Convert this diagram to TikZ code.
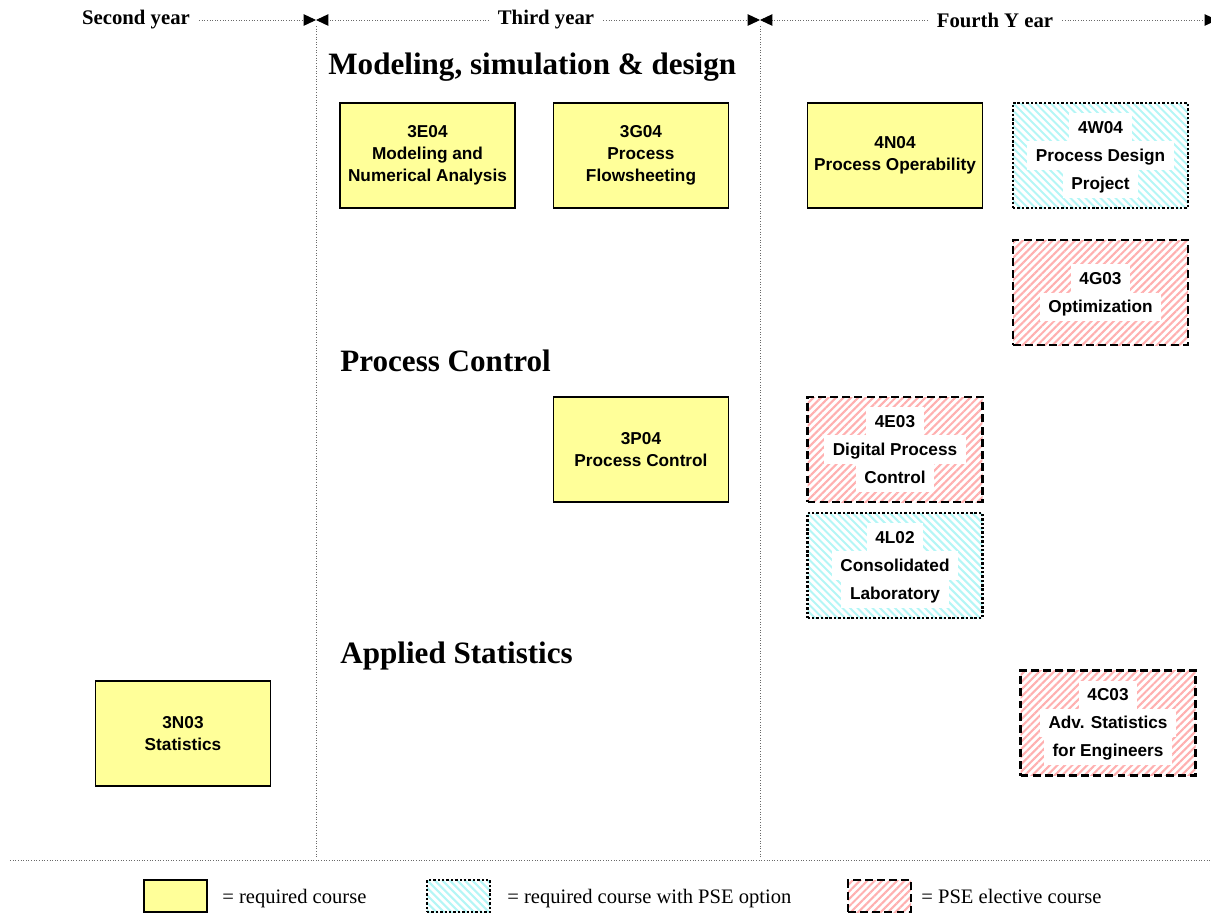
\documentclass[tikz,border=0pt]{standalone}
\usepackage{fontspec}
\setmainfont{Liberation Serif}
\setsansfont{Liberation Sans}
\usetikzlibrary{arrows.meta,patterns.meta}
\definecolor{courseYellow}{HTML}{FFFF99}
\definecolor{hatchCyan}{HTML}{B4F6F6}
\definecolor{hatchRed}{HTML}{FFB0B0}
\definecolor{gridGray}{HTML}{6A6A6A}
\setlength{\fboxsep}{0pt}
\setlength{\lineskip}{0pt}
% white strip behind one line of a hatched box
\newcommand{\wl}[1]{\colorbox{white}{\hspace{5pt}\rule[-4.8pt]{0pt}{16pt}#1\hspace{5pt}}}

\begin{document}
\begin{tikzpicture}[>=Latex,
  yearlbl/.style={font=\fontsize{11.8}{14}\selectfont\bfseries,inner xsep=5pt},
  yrline/.style={gridGray,line width=0.5pt,densely dotted},
  bowtip/.style={-{Triangle[length=7pt,width=6.5pt,black]}},
  area/.style={font=\fontsize{17.7}{20}\selectfont\bfseries,anchor=west,inner sep=0pt},
  course/.style={draw,minimum width=3.5cm,minimum height=2.1cm,align=center,
    font=\sffamily\bfseries\fontsize{9.8}{12.5}\selectfont},
  req/.style={course,fill=courseYellow,line width=1pt},
  hatched/.style={course,font=\sffamily\bfseries\fontsize{9.8}{10}\selectfont},
  % back-slanted stripes drawn by hand
  pse/.style={hatched,line width=1.4pt,dash pattern=on 1.4pt off 1.1pt,
    path picture={
      \foreach \k in {-2.25,-2.1,...,3.6}
        \draw[hatchCyan,solid,line width=1.2pt]
          ([xshift=\k cm]path picture bounding box.north west) -- ++(2.4,-2.4);
    }},
  elect/.style={hatched,pattern={Lines[angle=45,distance=3pt,line width=1.2pt]},
    pattern color=hatchRed,line width=1.4pt,dash pattern=on 4.5pt off 2.4pt},
  keytext/.style={font=\fontsize{11.7}{14}\selectfont,anchor=base west,inner sep=0pt}]
  \useasboundingbox (0,0) rectangle (24.22,-18.26);

  % year headers
  \node[yearlbl] (y2) at (2.72,-0.40) {Second year};
  \node[yearlbl] (y3) at (10.92,-0.40) {Third year};
  \node[yearlbl] (y4) at (19.90,-0.40) {Fourth Y ear};
  \coordinate (b23) at (6.32,-0.40);
  \coordinate (b34) at (15.20,-0.40);
  \coordinate (bend) at (24.34,-0.40);
  \draw[yrline,bowtip] (y2) -- (b23);
  \foreach \a/\b/\c in {b23/y3/b34, b34/y4/bend}
  {
    \draw[yrline,bowtip] (\b) -- (\a);
    \draw[yrline,bowtip] (\b) -- (\c);
  }
  \foreach \c in {b23,b34}
    \draw[yrline] ([yshift=-0.12cm]\c) -- ++(0,-16.64);
  \draw[yrline] (0.2,-17.2) -- (24.3,-17.2);

  % areas
  \node[area] (modsim) at (6.56,-1.34) {Modeling, simulation \& design};
  \node[area] (ctrl) at (6.80,-7.22) {Process Control};
  \node[area] (stats) at (6.80,-13.12) {Applied Statistics};

  % required courses
  \foreach \name/\x/\y/\txt in {
    c3E04/8.55/-3.11/{3E04\\Modeling and\\Numerical Analysis},
    c3G04/12.82/-3.11/{3G04\\Process\\Flowsheeting},
    c4N04/17.90/-3.11/{4N04\\Process Operability},
    c3P04/12.82/-8.99/{3P04\\Process Control},
    c3N03/3.66/-14.67/{3N03\\Statistics}}
    \node[req] (\name) at (\x,\y) {\txt};

  % PSE option and electives
  \node[pse] (c4W04) at (22.01,-3.11) {\wl{4W04}\\ \wl{Process Design}\\ \wl{Project}};
  \node[elect] (c4G03) at (22.01,-5.85) {\wl{4G03}\\ \wl{Optimization}};
  \node[elect] (c4E03) at (17.90,-8.99) {\wl{4E03}\\ \wl{Digital Process}\\ \wl{Control}};
  \node[pse] (c4L02) at (17.90,-11.31) {\wl{4L02}\\ \wl{Consolidated}\\ \wl{Laboratory}};
  \node[elect] (c4C03) at (22.16,-14.46) {\wl{4C03}\\ \wl{Adv. Statistics}\\ \wl{for Engineers}};

  % legend
  \node[req,minimum width=1.26cm,minimum height=0.64cm] (keyReq) at (3.51,-17.92) {};
  \node[pse,minimum width=1.26cm,minimum height=0.64cm] (keyPse) at (9.17,-17.92) {};
  \node[elect,minimum width=1.26cm,minimum height=0.64cm] (keyElect) at (17.59,-17.92) {};
  \node[keytext] (keyReqT) at (4.44,-18.06) {= required course};
  \node[keytext] (keyPseT) at (10.14,-18.06) {= required course with PSE option};
  \node[keytext] (keyElectT) at (18.42,-18.06) {= PSE elective course};
\end{tikzpicture}
\end{document}
